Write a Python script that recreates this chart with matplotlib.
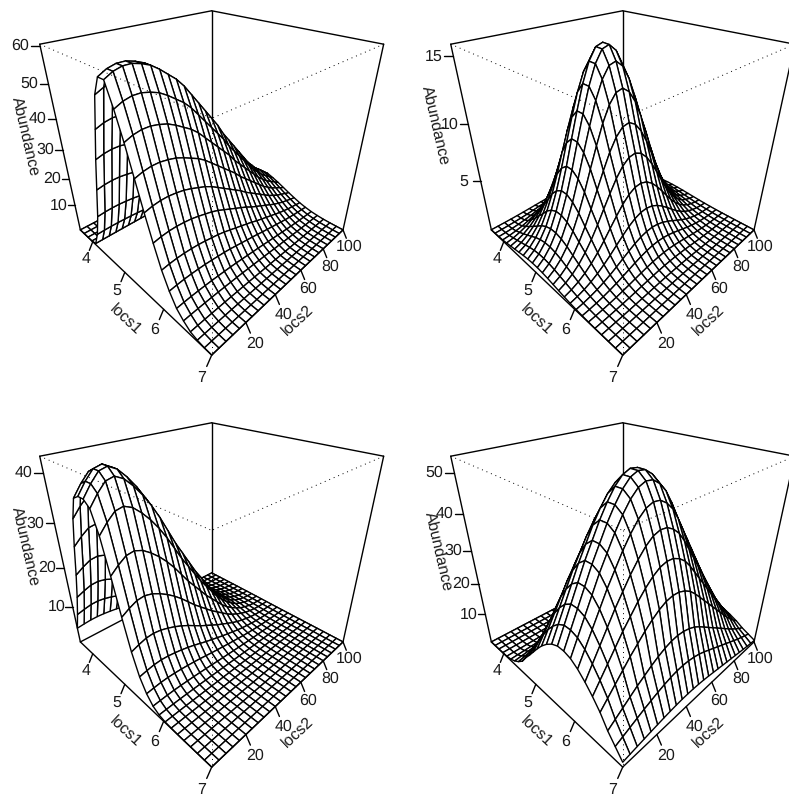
import numpy as np
import matplotlib
matplotlib.use('Agg')
import matplotlib.pyplot as plt
from matplotlib.collections import PolyCollection

plt.rcParams['font.family'] = ['Liberation Sans', 'DejaVu Sans']
plt.rcParams['text.hinting'] = 'none'

LOCS1_RANGE = (3.56, 7.0)
LOCS2_RANGE = (0.0, 100.0)
LOCS1_TICKS = [4, 5, 6, 7]
LOCS2_TICKS = [20, 40, 60, 80, 100]
N_GRID = 26

# peak height and relative profiles
peak_a = 60.4
peak_b = 15.8
peak_c = 43.0
peak_d = 53.7

ticks_a = [10, 20, 30, 40, 50, 60]
ticks_b = [5, 10, 15]
ticks_c = [10, 20, 30, 40]
ticks_d = [10, 20, 30, 40, 50]

locs1_a = [0, 0, 0, 0, .01, .10, .24, .42, .60, .76, .92, 1.0, 1.0,
           .90, .78, .64, .50, .37, .25, .16, .09, .05, .02, .008, .002, 0]
locs2_a = [.97, .99, 1, 1, .99, .975, .95, .92, .89, .85, .80, .75, .70,
           .65, .60, .54, .49, .44, .39, .34, .29, .25, .21, .18, .15, .12]

locs1_b = [.02, .04, .08, .15, .27, .395, .54, .68, .83, .935, .994, .992, .93,
           .82, .67, .53, .385, .26, .167, .104, .058, .031, .015, .0075, .003, .001]
locs2_b = [.047, .077, .122, .183, .265, .364, .48, .607, .73, .845, .934, .988, .999,
           .966, .894, .791, .67, .543, .42, .312, .221, .15, .097, .06, .036, .02]

locs1_c = [.105, .23, .37, .53, .71, .87, .98, 1.0, 1.0, .97, .86, .68, .48,
           .30, .17, .09, .04, .016, .006, .003, .001, 0, 0, 0, 0, 0]
locs2_c = [.90, .95, .99, 1, .98, .94, .89, .83, .76, .68, .60, .53, .46,
           .39, .33, .27, .21, .16, .12, .085, .055, .035, .02, .01, .005, .002]

locs1_d = [0, .001, .004, .007, .012, .03, .07, .13, .21, .34, .45, .57, .69,
           .80, .89, .96, 1, 1, .97, .90, .80, .68, .54, .36, .22, .08]
locs2_d = [.38, .46, .54, .62, .70, .77, .84, .90, .95, .985, 1, .995, .97,
           .93, .87, .80, .73, .66, .59, .52, .45, .38, .31, .25, .19, .14]

# panel origins in pixels (centre of the view) and offset of the z label
CENTERS = [(211.7, 149.5), (622.7, 149.5), (211.7, 561.5), (622.7, 561.5)]
ZLABEL_OFFSETS = [(-38, -13), (-39, -24), (-38, -15), (-36, -10)]

FOCAL = 393.0
EYE = 3.732
S, C = np.sin(np.radians(30)), np.cos(np.radians(30))
TICK_A, TICK_B = 0.054, 0.084
LW = 1.0
FONT = 11.5
INK = '#1a1a1a'


def project(xn, yn, zn, center):
    xn, yn, zn = np.asarray(xn, float), np.asarray(yn, float), np.asarray(zn, float)
    u = (xn + yn) / np.sqrt(2)
    v = (xn - yn) / np.sqrt(2)
    scale = FOCAL / (EYE - zn * S - v * C)
    return center[0] + u * scale, center[1] - (zn * C - v * S) * scale


def norm(val, lims):
    return 2 * (np.asarray(val, float) - lims[0]) / (lims[1] - lims[0]) - 1


def edge(ax, p, q, center, **kw):
    xs, ys = project([p[0], q[0]], [p[1], q[1]], [p[2], q[2]], center)
    ax.plot(xs, ys, color='black', solid_capstyle='round', **kw)


def draw_panel(ax, locs1, locs2, peak, zticks, center, zlab):
    zlim = (0, peak)
    xg = np.linspace(-1, 1, N_GRID)
    yg = np.linspace(-1, 1, N_GRID)
    zg = norm(peak * np.outer(locs1, locs2), zlim)

    # back of the box
    for p, q in [((-1, -1, 1), (-1, 1, 1)), ((1, 1, 1), (-1, 1, 1)), ((-1, 1, 1), (-1, 1, -1)),
                 ((-1, -1, -1), (-1, 1, -1)), ((1, 1, -1), (-1, 1, -1)),
                 ((-1, -1, 1), (-1, -1, -1)), ((1, 1, 1), (1, 1, -1))]:
        edge(ax, p, q, center, lw=LW, zorder=1)

    # cells, far to near
    polys = []
    for i in range(N_GRID - 1):
        for j in range(N_GRID - 2, -1, -1):
            px, py = project([xg[i], xg[i + 1], xg[i + 1], xg[i]],
                             [yg[j], yg[j], yg[j + 1], yg[j + 1]],
                             [zg[i, j], zg[i + 1, j], zg[i + 1, j + 1], zg[i, j + 1]], center)
            polys.append(np.column_stack([px, py]))
    ax.add_collection(PolyCollection(polys, facecolors='white', edgecolors='black',
                                     linewidths=LW, zorder=2))

    # front of the box
    for p, q in [((-1, -1, 1), (1, -1, 1)), ((1, 1, 1), (1, -1, 1)), ((1, -1, 1), (1, -1, -1))]:
        edge(ax, p, q, center, lw=0.7, linestyle=(0, (1, 4)), zorder=3)
    edge(ax, (-1, -1, -1), (1, -1, -1), center, lw=LW, zorder=3)
    edge(ax, (1, -1, -1), (1, 1, -1), center, lw=LW, zorder=3)

    # locs1 axis
    for t in LOCS1_TICKS:
        n = norm(t, LOCS1_RANGE)
        edge(ax, (n, -1, -1), (n, -1 - TICK_A, -1 - TICK_B), center, lw=LW, zorder=3)
        lx, ly = project(n, -1 - 2 * TICK_A, -1 - 2 * TICK_B, center)
        ax.text(lx, ly, str(t), fontsize=FONT, ha='center', va='center', color=INK)
    # locs2 axis
    for t in LOCS2_TICKS:
        n = norm(t, LOCS2_RANGE)
        edge(ax, (1, n, -1), (1 + TICK_A, n, -1 - TICK_B), center, lw=LW, zorder=3)
        lx, ly = project(1 + 2 * TICK_A, n, -1 - 2 * TICK_B, center)
        ax.text(lx, ly, str(t), fontsize=FONT, ha='center', va='center', color=INK)
    # z axis
    for t in zticks:
        n = norm(t, zlim)
        edge(ax, (-1, -1, n), (-1 - TICK_A, -1 - TICK_A, n), center, lw=LW, zorder=3)
        lx, ly = project(-1 - 2.2 * TICK_A, -1 - 2.2 * TICK_A, n, center)
        ax.text(lx, ly, str(t), fontsize=FONT, ha='center', va='center', color=INK)

    # axis titles
    mx, my = project(0, -1, -1, center)
    ax.text(mx - 9, my + 38, 'locs1', rotation=-43, fontsize=FONT, ha='center', va='center', color=INK)
    mx, my = project(1, 0, -1, center)
    ax.text(mx + 9, my + 38, 'locs2', rotation=43, fontsize=FONT, ha='center', va='center', color=INK)
    mx, my = project(-1, -1, 0, center)
    ax.text(mx + zlab[0], my + zlab[1], 'Abundance', rotation=-77, fontsize=FONT,
            ha='center', va='center', color=INK)


fig = plt.figure(figsize=(7.89, 7.99), dpi=100)
ax = fig.add_axes([0, 0, 1, 1])
ax.set_xlim(0, 789)
ax.set_ylim(799, 0)
ax.axis('off')

draw_panel(ax, locs1_a, locs2_a, peak_a, ticks_a, CENTERS[0], ZLABEL_OFFSETS[0])
draw_panel(ax, locs1_b, locs2_b, peak_b, ticks_b, CENTERS[1], ZLABEL_OFFSETS[1])
draw_panel(ax, locs1_c, locs2_c, peak_c, ticks_c, CENTERS[2], ZLABEL_OFFSETS[2])
draw_panel(ax, locs1_d, locs2_d, peak_d, ticks_d, CENTERS[3], ZLABEL_OFFSETS[3])

fig.savefig('out.png', dpi=100)
